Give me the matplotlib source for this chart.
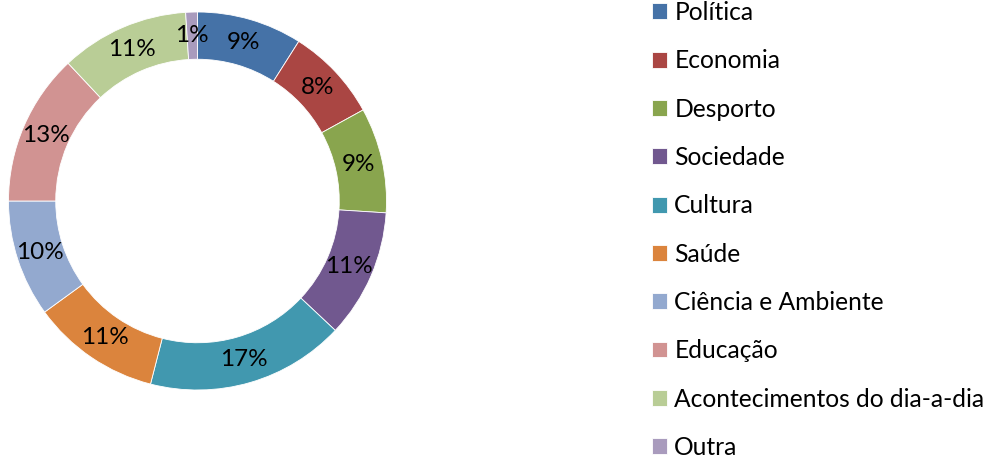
import matplotlib.pyplot as plt

categories = ['Política', 'Economia', 'Desporto', 'Sociedade', 'Cultura',
              'Saúde', 'Ciência e Ambiente', 'Educação',
              'Acontecimentos do dia-a-dia', 'Outra']
values = [9, 8, 9, 11, 17, 11, 10, 13, 11, 1]
colors = ['#4572A7', '#AA4643', '#89A54E', '#71588F', '#4198AF',
          '#DB843D', '#93A9CF', '#D19392', '#B9CD96', '#A99BBD']

plt.rcParams['font.family'] = ['Lato', 'DejaVu Sans']

W, H = 989, 457
fig = plt.figure(figsize=(W / 100, H / 100), dpi=100)

# donut: center about (197.5, 201) px from top-left, outer radius 189 px
R = 189
cx, cy = 197.5, 201
ax = fig.add_axes([(cx - R) / W, (H - cy - R) / H, 2 * R / W, 2 * R / H])

wedges, texts, autotexts = ax.pie(
    values, colors=colors, startangle=90, counterclock=False,
    autopct='%1.0f%%', pctdistance=0.875,
    wedgeprops=dict(width=0.25, edgecolor='white', linewidth=0.6),
    textprops=dict(fontsize=17.5, color='black'))
ax.set_xlim(-1, 1)
ax.set_ylim(-1, 1)
ax.set_aspect('equal')

leg = fig.legend(wedges, categories, loc='upper left',
                 bbox_to_anchor=(652 / W, 1 - 1 / H), frameon=False,
                 fontsize=17.7, handlelength=0.61, handleheight=0.61,
                 handletextpad=0.3, labelspacing=1.03,
                 borderaxespad=0, borderpad=0)

fig.savefig('out.png', dpi=100)
